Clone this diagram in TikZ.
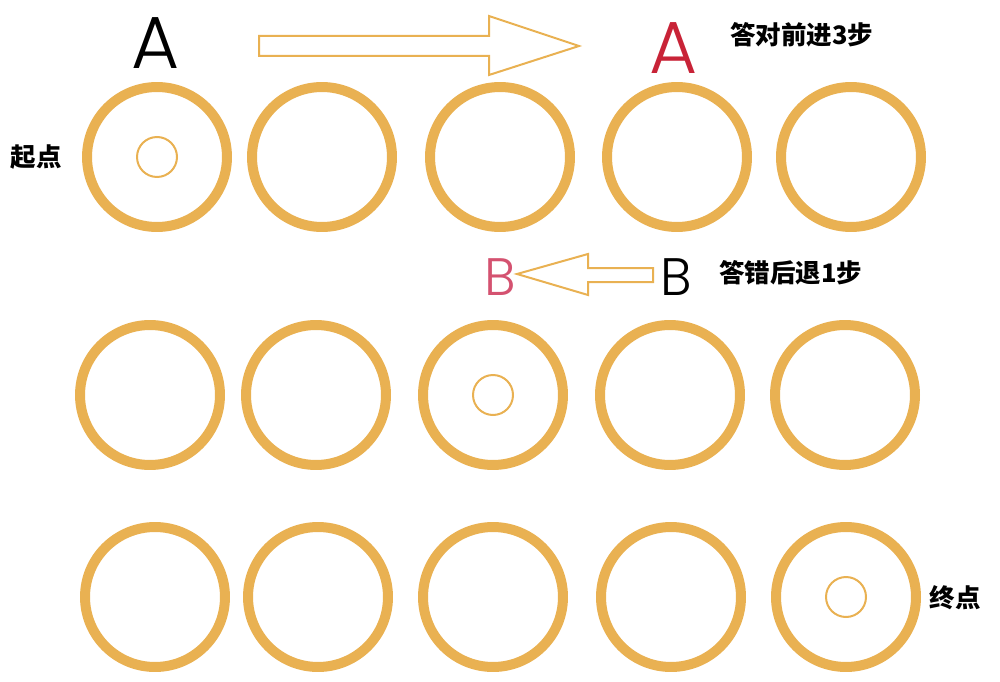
\documentclass[tikz,border=0pt]{standalone}
\usepackage{fontspec}
\newfontfamily\cjk{Noto Sans CJK SC}
\newfontfamily\letterfont{Poppins}[UprightFont={* Light}]
\definecolor{ringgold}{RGB}{233,177,82}
\definecolor{letterred}{RGB}{200,35,55}
\definecolor{letterpink}{RGB}{212,82,112}
\tikzset{
  ring/.style={circle,draw=ringgold,line width=0.2cm,minimum size=2.8cm,inner sep=0pt},
  token/.style={circle,draw=ringgold,line width=0.04cm,minimum size=0.8cm,inner sep=0pt},
  bigarrow/.style={draw=ringgold,line width=0.04cm,line join=miter},
  tag/.style={font=\cjk\fontsize{14.5}{14.5}\selectfont\bfseries},
}
\begin{document}
\begin{tikzpicture}[x=0.02cm,y=-0.02cm]
  \useasboundingbox (0,0) rectangle (1000,682);
  % rings, one row at a time
  \foreach \n/\x in {1/157,2/322,3/500,4/677,5/851}
    \node[ring] (r1\n) at (\x,157) {};
  \foreach \n/\x in {1/150,2/316,3/493,4/670,5/845}
    \node[ring] (r2\n) at (\x,395) {};
  \foreach \n/\x in {1/155,2/318,3/493,4/671,5/846}
    \node[ring] (r3\n) at (\x,597) {};
  % small tokens
  \node[token] (start) at (r11) {};
  \node[token] (mid) at (r23) {};
  \node[token] (goal) at (r35) {};
  \node[tag] (startlbl) at (36,157) {起点};
  \node[tag] (goallbl) at (955,598) {终点};
  % A moves forward
  \node[font=\letterfont\fontsize{42}{42}\selectfont] (aold) at (156,43) {A};
  \node[font=\letterfont\fontsize{42}{42}\selectfont,text=letterred] (anew) at (674,48) {A};
  \draw[bigarrow] (259,36) -- (489,36) -- (489,16) -- (579,46) -- (489,75) -- (489,56) -- (259,56) -- cycle;
  \node[tag,anchor=west] (alabel) at (724,35) {答对前进3步};
  % B moves back
  \node[font=\letterfont\fontsize{30}{30}\selectfont,text=letterpink] (bnew) at (500,277) {B};
  \node[font=\letterfont\fontsize{30}{30}\selectfont] (bold) at (676,277) {B};
  \draw[bigarrow] (653,268) -- (588,268) -- (588,254) -- (517,274) -- (588,295) -- (588,282) -- (653,282) -- cycle;
  \node[tag,anchor=west] (blabel) at (713,273) {答错后退1步};
\end{tikzpicture}
\end{document}
